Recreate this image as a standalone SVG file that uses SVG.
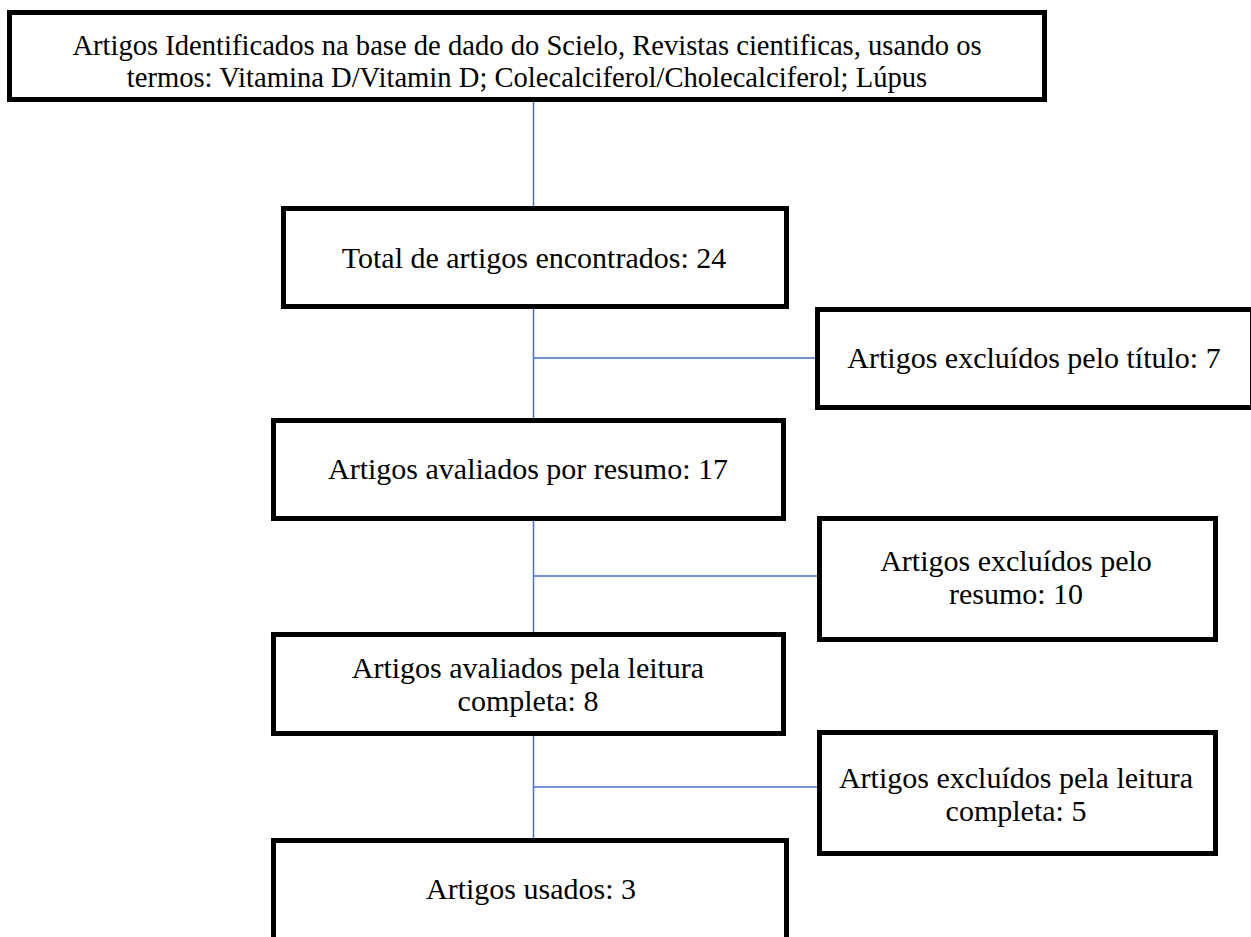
<svg xmlns="http://www.w3.org/2000/svg" width="1251" height="937" viewBox="0 0 1251 937">
<style>
.box{fill:#fff;stroke:#000;stroke-width:5}
.t{font-family:"Liberation Serif","Times New Roman",serif;font-size:30px;fill:#000;text-anchor:middle}
.s{font-size:28.6px}
.c{stroke:#4472C4;stroke-width:1.5;fill:none}
</style>
<rect width="1251" height="937" fill="#fff"/>
<g id="connectors">
<line class="c" x1="533.5" y1="102" x2="533.5" y2="206"/>
<line class="c" x1="533.5" y1="309" x2="533.5" y2="418"/>
<line class="c" x1="533.5" y1="358" x2="815" y2="358"/>
<line class="c" x1="533.5" y1="521" x2="533.5" y2="632"/>
<line class="c" x1="533.5" y1="576" x2="817" y2="576"/>
<line class="c" x1="533.5" y1="735" x2="533.5" y2="838"/>
<line class="c" x1="533.5" y1="787" x2="817" y2="787"/>
</g>
<g id="n1">
<rect class="box" x="9.5" y="12.5" width="1035" height="87"/>
<text class="t s" x="527" y="55">Artigos Identificados na base de dado do Scielo, Revistas cientificas, usando os</text>
<text class="t s" x="527" y="87">termos: Vitamina D/Vitamin D; Colecalciferol/Cholecalciferol; Lúpus</text>
</g>
<g id="n2">
<rect class="box" x="283.5" y="208.5" width="503" height="98"/>
<text class="t" x="534" y="268">Total de artigos encontrados: 24</text>
</g>
<g id="n3">
<rect class="box" x="817.5" y="309.5" width="435" height="98"/>
<text class="t" x="1034" y="368">Artigos excluídos pelo título: 7</text>
</g>
<g id="n4">
<rect class="box" x="273.5" y="420.5" width="510" height="98"/>
<text class="t" x="528" y="479">Artigos avaliados por resumo: 17</text>
</g>
<g id="n5">
<rect class="box" x="819.5" y="518.5" width="396" height="121"/>
<text class="t" x="1016" y="571">Artigos excluídos pelo</text>
<text class="t" x="1016" y="604">resumo: 10</text>
</g>
<g id="n6">
<rect class="box" x="273.5" y="634.5" width="510" height="99"/>
<text class="t" x="528" y="678">Artigos avaliados pela leitura</text>
<text class="t" x="528" y="711">completa: 8</text>
</g>
<g id="n7">
<rect class="box" x="819.5" y="732.5" width="396" height="121"/>
<text class="t" x="1016" y="788">Artigos excluídos pela leitura</text>
<text class="t" x="1016" y="821">completa: 5</text>
</g>
<g id="n8">
<rect class="box" x="273.5" y="840.5" width="513" height="110"/>
<text class="t" x="531" y="899">Artigos usados: 3</text>
</g>
</svg>
